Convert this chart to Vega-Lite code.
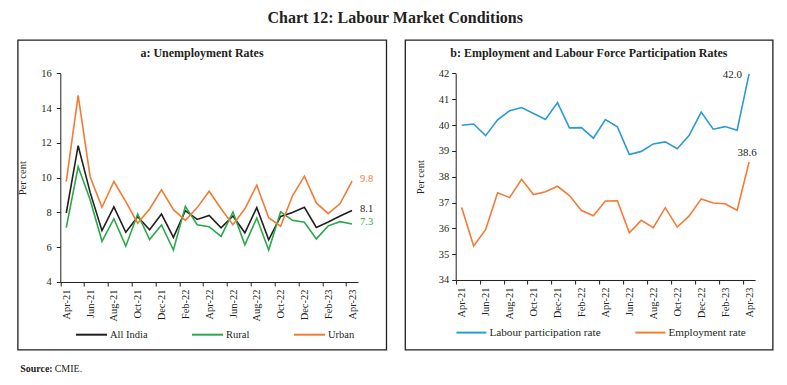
{
  "$schema": "https://vega.github.io/schema/vega-lite/v6.json",
  "padding": {"left": 16.7, "top": 10, "right": 5, "bottom": 5},
  "background": "white",
  "title": {"text": "Chart 12: Labour Market Conditions", "anchor": "middle", "fontSize": 16, "fontWeight": "bold", "font": "Liberation Serif", "offset": 13, "color": "#231f20"},
  "config": {
    "font": "Liberation Serif",
    "view": {"stroke": "#231f20", "strokeWidth": 1.3},
    "axis": {"grid": false, "domainColor": "#231f20", "tickColor": "#231f20", "labelColor": "#231f20", "titleColor": "#231f20", "labelFontSize": 10.5, "titleFontSize": 10.5, "titleFontWeight": "normal", "tickSize": 4, "labelFont": "Liberation Serif", "titleFont": "Liberation Serif", "labelOverlap": false, "labelBound": false, "labelFlush": false, "tickCount": 40},
    "legend": {"labelColor": "#231f20", "labelFont": "Liberation Serif"},
    "title": {"color": "#231f20"}
  },
  "spacing": 13,
  "vconcat": [
    {
      "spacing": 16.4,
      "resolve": {"scale": {"color": "independent", "x": "independent", "y": "independent"}, "legend": {"color": "independent"}},
      "hconcat": [
        {
          "width": 368.6,
          "height": 309.7,
          "title": {"text": "a: Unemployment Rates", "fontSize": 12, "fontWeight": "bold", "offset": -20, "anchor": "middle"},
          "data": {"values": [
            {"month": "Apr-21", "i": 0, "All India": 7.97, "Rural": 7.13, "Urban": 9.78},
            {"month": "May-21", "i": 1, "All India": 11.84, "Rural": 10.63, "Urban": 14.73},
            {"month": "Jun-21", "i": 2, "All India": 9.17, "Rural": 8.75, "Urban": 10.07},
            {"month": "Jul-21", "i": 3, "All India": 6.95, "Rural": 6.34, "Urban": 8.30},
            {"month": "Aug-21", "i": 4, "All India": 8.32, "Rural": 7.64, "Urban": 9.78},
            {"month": "Sep-21", "i": 5, "All India": 6.86, "Rural": 6.06, "Urban": 8.62},
            {"month": "Oct-21", "i": 6, "All India": 7.75, "Rural": 7.91, "Urban": 7.38},
            {"month": "Nov-21", "i": 7, "All India": 7.00, "Rural": 6.44, "Urban": 8.20},
            {"month": "Dec-21", "i": 8, "All India": 7.91, "Rural": 7.28, "Urban": 9.30},
            {"month": "Jan-22", "i": 9, "All India": 6.57, "Rural": 5.84, "Urban": 8.16},
            {"month": "Feb-22", "i": 10, "All India": 8.10, "Rural": 8.35, "Urban": 7.55},
            {"month": "Mar-22", "i": 11, "All India": 7.60, "Rural": 7.29, "Urban": 8.28},
            {"month": "Apr-22", "i": 12, "All India": 7.83, "Rural": 7.18, "Urban": 9.22},
            {"month": "May-22", "i": 13, "All India": 7.12, "Rural": 6.62, "Urban": 8.21},
            {"month": "Jun-22", "i": 14, "All India": 7.80, "Rural": 8.03, "Urban": 7.30},
            {"month": "Jul-22", "i": 15, "All India": 6.83, "Rural": 6.14, "Urban": 8.21},
            {"month": "Aug-22", "i": 16, "All India": 8.28, "Rural": 7.68, "Urban": 9.57},
            {"month": "Sep-22", "i": 17, "All India": 6.43, "Rural": 5.84, "Urban": 7.70},
            {"month": "Oct-22", "i": 18, "All India": 7.77, "Rural": 8.04, "Urban": 7.21},
            {"month": "Nov-22", "i": 19, "All India": 8.00, "Rural": 7.55, "Urban": 8.96},
            {"month": "Dec-22", "i": 20, "All India": 8.30, "Rural": 7.44, "Urban": 10.09},
            {"month": "Jan-23", "i": 21, "All India": 7.14, "Rural": 6.48, "Urban": 8.55},
            {"month": "Feb-23", "i": 22, "All India": 7.45, "Rural": 7.23, "Urban": 7.93},
            {"month": "Mar-23", "i": 23, "All India": 7.80, "Rural": 7.47, "Urban": 8.51},
            {"month": "Apr-23", "i": 24, "All India": 8.11, "Rural": 7.34, "Urban": 9.81}
          ]},
          "transform": [{"fold": ["All India", "Rural", "Urban"], "as": ["series", "value"]}],
          "layer": [
            {
              "mark": {"type": "line", "strokeWidth": 1.6},
              "encoding": {
                "x": {"field": "i", "type": "quantitative",
                  "scale": {"domain": [-0.5, 24.5], "range": [42.6, 340.3], "nice": false, "zero": false},
                  "axis": {"title": null, "offset": -67.7, "tickCount": 40, "values": [-0.5, 1.5, 3.5, 5.5, 7.5, 9.5, 11.5, 13.5, 15.5, 17.5, 19.5, 21.5, 23.5],
                    "labelExpr": "['Apr-21','Jun-21','Aug-21','Oct-21','Dec-21','Feb-22','Apr-22','Jun-22','Aug-22','Oct-22','Dec-22','Feb-23','Apr-23'][round((datum.value + 0.5) / 2)]",
                    "labelAngle": 270, "labelOffset": 6, "labelPadding": 3, "labelOverlap": false, "labelFontSize": 10.5}},
                "y": {"field": "value", "type": "quantitative",
                  "scale": {"domain": [4, 16], "range": [242, 33.4], "nice": false, "zero": false},
                  "axis": {"title": "Per cent", "offset": -42.6, "tickCount": 40, "format": "d", "values": [4, 6, 8, 10, 12, 14, 16], "labelPadding": 5, "titlePadding": 13, "labelOverlap": false}},
                "color": {"field": "series", "type": "nominal",
                  "scale": {"domain": ["All India", "Rural", "Urban"], "range": ["#231f20", "#2aa84a", "#f47b35"]},
                  "legend": {"orient": "none", "legendX": 57.3, "legendY": 278.2, "direction": "horizontal", "title": null, "symbolType": "stroke", "symbolSize": 961, "symbolStrokeWidth": 2, "labelFontSize": 10.5, "labelOffset": 2, "columnPadding": 40, "padding": 0}}
              }
            },
            {
              "transform": [{"filter": "datum.i == 24"}],
              "mark": {"type": "text", "align": "left", "dx": 8, "dy": -2, "fontSize": 10.5},
              "encoding": {
                "x": {"field": "i", "type": "quantitative"},
                "y": {"field": "value", "type": "quantitative"},
                "text": {"field": "value", "type": "quantitative", "format": ".1f"},
                "color": {"field": "series", "type": "nominal", "legend": null}
              }
            }
          ]
        },
        {
          "width": 367.6,
          "height": 309.7,
          "title": {"text": "b: Employment and Labour Force Participation Rates", "fontSize": 12, "fontWeight": "bold", "offset": -20, "anchor": "middle"},
          "data": {"values": [
            {"month": "Apr-21", "i": 0, "Labour participation rate": 39.99, "Employment rate": 36.81},
            {"month": "May-21", "i": 1, "Labour participation rate": 40.04, "Employment rate": 35.32},
            {"month": "Jun-21", "i": 2, "Labour participation rate": 39.59, "Employment rate": 35.95},
            {"month": "Jul-21", "i": 3, "Labour participation rate": 40.20, "Employment rate": 37.38},
            {"month": "Aug-21", "i": 4, "Labour participation rate": 40.55, "Employment rate": 37.19},
            {"month": "Sep-21", "i": 5, "Labour participation rate": 40.68, "Employment rate": 37.90},
            {"month": "Oct-21", "i": 6, "Labour participation rate": 40.45, "Employment rate": 37.31},
            {"month": "Nov-21", "i": 7, "Labour participation rate": 40.22, "Employment rate": 37.42},
            {"month": "Dec-21", "i": 8, "Labour participation rate": 40.87, "Employment rate": 37.63},
            {"month": "Jan-22", "i": 9, "Labour participation rate": 39.89, "Employment rate": 37.27},
            {"month": "Feb-22", "i": 10, "Labour participation rate": 39.90, "Employment rate": 36.69},
            {"month": "Mar-22", "i": 11, "Labour participation rate": 39.49, "Employment rate": 36.49},
            {"month": "Apr-22", "i": 12, "Labour participation rate": 40.21, "Employment rate": 37.06},
            {"month": "May-22", "i": 13, "Labour participation rate": 39.93, "Employment rate": 37.07},
            {"month": "Jun-22", "i": 14, "Labour participation rate": 38.86, "Employment rate": 35.83},
            {"month": "Jul-22", "i": 15, "Labour participation rate": 38.98, "Employment rate": 36.31},
            {"month": "Aug-22", "i": 16, "Labour participation rate": 39.27, "Employment rate": 36.03},
            {"month": "Sep-22", "i": 17, "Labour participation rate": 39.35, "Employment rate": 36.80},
            {"month": "Oct-22", "i": 18, "Labour participation rate": 39.08, "Employment rate": 36.05},
            {"month": "Nov-22", "i": 19, "Labour participation rate": 39.60, "Employment rate": 36.48},
            {"month": "Dec-22", "i": 20, "Labour participation rate": 40.50, "Employment rate": 37.14},
            {"month": "Jan-23", "i": 21, "Labour participation rate": 39.84, "Employment rate": 36.98},
            {"month": "Feb-23", "i": 22, "Labour participation rate": 39.94, "Employment rate": 36.95},
            {"month": "Mar-23", "i": 23, "Labour participation rate": 39.80, "Employment rate": 36.70},
            {"month": "Apr-23", "i": 24, "Labour participation rate": 41.98, "Employment rate": 38.57}
          ]},
          "transform": [{"fold": ["Labour participation rate", "Employment rate"], "as": ["series", "value"]}],
          "layer": [
            {
              "mark": {"type": "line", "strokeWidth": 1.6},
              "encoding": {
                "x": {"field": "i", "type": "quantitative",
                  "scale": {"domain": [-0.5, 24.5], "range": [50.6, 350], "nice": false, "zero": false},
                  "axis": {"title": null, "offset": -69.7, "tickCount": 40, "values": [-0.5, 1.5, 3.5, 5.5, 7.5, 9.5, 11.5, 13.5, 15.5, 17.5, 19.5, 21.5, 23.5],
                    "labelExpr": "['Apr-21','Jun-21','Aug-21','Oct-21','Dec-21','Feb-22','Apr-22','Jun-22','Aug-22','Oct-22','Dec-22','Feb-23','Apr-23'][round((datum.value + 0.5) / 2)]",
                    "labelAngle": 270, "labelOffset": 6, "labelPadding": 3, "labelOverlap": false, "labelFontSize": 10.5}},
                "y": {"field": "value", "type": "quantitative",
                  "scale": {"domain": [34, 42], "range": [240, 33.4], "nice": false, "zero": false},
                  "axis": {"title": "Per cent", "offset": -50.6, "tickCount": 40, "format": "d", "values": [34, 35, 36, 37, 38, 39, 40, 41, 42], "labelPadding": 3, "titlePadding": 13, "labelOverlap": false}},
                "color": {"field": "series", "type": "nominal",
                  "scale": {"domain": ["Labour participation rate", "Employment rate"], "range": ["#2a9bd3", "#f47b35"]},
                  "legend": {"orient": "none", "legendX": 50.3, "legendY": 276.2, "direction": "horizontal", "title": null, "symbolType": "stroke", "symbolSize": 900, "symbolStrokeWidth": 2, "labelFontSize": 11.2, "labelOffset": 2, "columnPadding": 30, "padding": 0}}
              }
            },
            {
              "transform": [{"filter": "datum.i == 24 && datum.series == 'Labour participation rate'"}],
              "mark": {"type": "text", "align": "right", "dx": -7, "dy": 1, "fontSize": 11, "color": "#231f20"},
              "encoding": {
                "x": {"field": "i", "type": "quantitative"},
                "y": {"field": "value", "type": "quantitative"},
                "text": {"field": "value", "type": "quantitative", "format": ".1f"}
              }
            },
            {
              "transform": [{"filter": "datum.i == 24 && datum.series == 'Employment rate'"}],
              "mark": {"type": "text", "align": "center", "dx": -2, "dy": -9, "fontSize": 11, "color": "#231f20"},
              "encoding": {
                "x": {"field": "i", "type": "quantitative"},
                "y": {"field": "value", "type": "quantitative"},
                "text": {"field": "value", "type": "quantitative", "format": ".1f"}
              }
            }
          ]
        }
      ]
    },
    {
      "width": 70,
      "height": 10,
      "view": {"stroke": null},
      "data": {"values": [{"note": "Source: CMIE."}]},
      "layer": [
        {"mark": {"type": "text", "text": "Source:", "fontWeight": "bold", "align": "right", "fontSize": 10, "color": "#231f20"}},
        {"mark": {"type": "text", "text": "CMIE.", "align": "left", "dx": 2, "fontSize": 10, "color": "#231f20"}}
      ]
    }
  ]
}
